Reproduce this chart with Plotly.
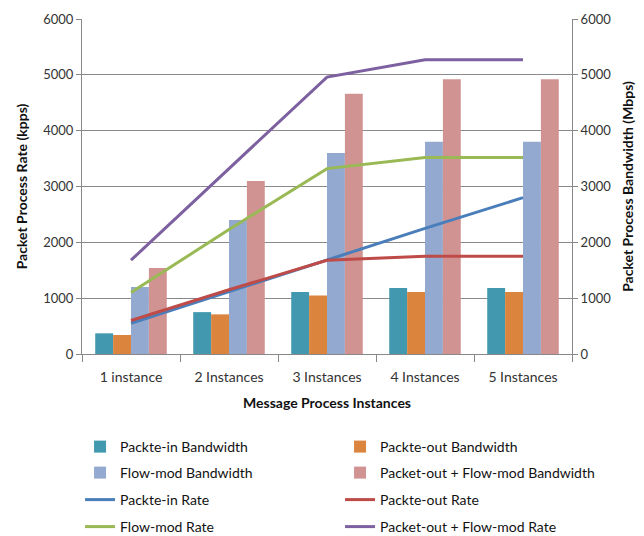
import plotly.graph_objects as go

categories = ["1 instance", "2 Instances", "3 Instances", "4 Instances", "5 Instances"]

pin_bw = [370, 750, 1110, 1180, 1180]
pout_bw = [340, 710, 1050, 1110, 1110]
fmod_bw = [1200, 2400, 3600, 3800, 3800]
pout_fmod_bw = [1540, 3100, 4660, 4920, 4920]

pin_rate = [550, 1120, 1680, 2250, 2800]
pout_rate = [600, 1150, 1680, 1750, 1750]
fmod_rate = [1100, 2230, 3320, 3520, 3520]
pout_fmod_rate = [1680, 3320, 4960, 5270, 5270]

bar_names = ["Packte-in Bandwidth", "Packte-out Bandwidth", "Flow-mod Bandwidth",
             "Packet-out + Flow-mod Bandwidth"]
line_names = ["Packte-in Rate", "Packte-out Rate", "Flow-mod Rate",
              "Packet-out + Flow-mod Rate"]
bar_colors = ["#4198AF", "#DB843D", "#93A9CF", "#D19392"]
line_colors = ["#4A7EBB", "#BE4B48", "#98B954", "#7D60A0"]

legend_ids = ["legend", "legend", "legend2", "legend2", "legend3", "legend3", "legend4", "legend4"]

fig = go.Figure()
i = 0
for name, vals, c in zip(bar_names, [pin_bw, pout_bw, fmod_bw, pout_fmod_bw], bar_colors):
    fig.add_trace(go.Bar(x=categories, y=vals, name=name, marker_color=c,
                         marker_line_width=0, yaxis="y", legend=legend_ids[i]))
    i += 1
for name, vals, c in zip(line_names, [pin_rate, pout_rate, fmod_rate, pout_fmod_rate], line_colors):
    fig.add_trace(go.Scatter(x=categories, y=vals, name=name, mode="lines",
                             line=dict(color=c, width=3), yaxis="y2", legend=legend_ids[i]))
    i += 1

font = "Lato"
axis_col = "#888"
tick_font = dict(size=13, color="#333")
xtick_font = dict(size=14, color="#333")
title_font = dict(size=14, color="#111")


def leg(y):
    return dict(orientation="h", x=-0.004, xanchor="left", y=y, yanchor="middle",
                entrywidth=215, entrywidthmode="pixels", font=dict(size=14, color="#111"),
                itemwidth=30, bgcolor="rgba(0,0,0,0)")


fig.update_layout(
    width=644, height=536,
    margin=dict(l=82, r=72, t=19, b=182, autoexpand=False),
    paper_bgcolor="white", plot_bgcolor="white",
    font=dict(family=font, size=12, color="#222"),
    barmode="group", bargap=0.27, bargroupgap=0,
    xaxis=dict(showline=True, linecolor=axis_col, linewidth=1, ticks="outside",
               tickson="boundaries", ticklen=7, tickcolor=axis_col,
               tickfont=xtick_font, showgrid=False, ticklabelstandoff=10,
               title=dict(text="<b>Message Process Instances</b>", font=title_font, standoff=14)),
    yaxis=dict(range=[0, 6000], dtick=1000, showline=True, linecolor=axis_col,
               gridcolor="#8a8a8a", gridwidth=1, ticks="outside", ticklen=5,
               tickcolor=axis_col, tickfont=tick_font, zeroline=False,
               title=dict(text="<b>Packet Process Rate (kpps)</b>", font=title_font, standoff=12)),
    yaxis2=dict(range=[0, 6000], dtick=1000, overlaying="y", side="right",
                showline=True, linecolor=axis_col, showgrid=False, ticks="outside",
                ticklen=5, tickcolor=axis_col, tickfont=tick_font, zeroline=False,
                title=dict(text="<b>Packet Process Bandwidth (Mbps)</b>", font=title_font, standoff=12)),
    legend=leg((354 - 447) / 335),
    legend2=leg((354 - 473) / 335),
    legend3=leg((354 - 500) / 335),
    legend4=leg((354 - 527) / 335),
)

fig.write_html("out.html")
